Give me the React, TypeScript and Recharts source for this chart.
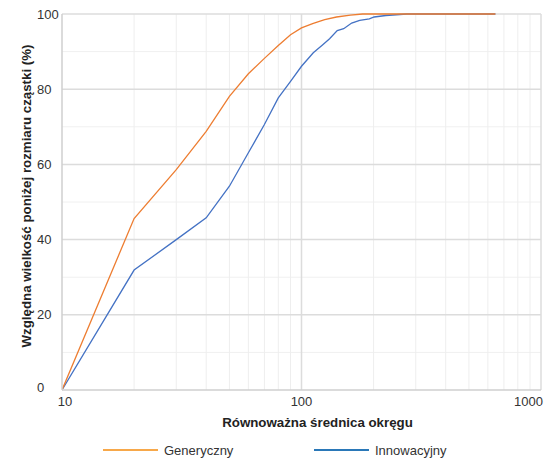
import React from 'react';
import { LineChart, Line, XAxis, YAxis, ReferenceLine, Label } from 'recharts';

const genericX = [10, 20, 30, 40, 50, 60, 70, 80, 90, 100, 112, 125, 140, 160, 180, 300, 645];
const genericY = [0, 45.6, 58.6, 68.8, 78.1, 84.1, 88.2, 91.6, 94.5, 96.3, 97.5, 98.5, 99.2, 99.7, 100, 100, 100];
const innovX = [10, 20, 30, 40, 50, 60, 70, 80, 90, 100, 112, 122, 131, 141, 150, 162, 175, 192, 201, 225, 275, 645];
const innovY = [0, 31.9, 40, 45.8, 54.2, 63.1, 70.6, 77.7, 82.1, 86.1, 89.7, 91.7, 93.4, 95.6, 96.1, 97.6, 98.3, 98.7, 99.2, 99.6, 100, 100];

const xTicks = [10, 100, 1000];
const xMinor = [20, 30, 40, 50, 60, 70, 80, 90, 200, 300, 400, 500, 600, 700, 800, 900];
const yTicks = [0, 20, 40, 60, 80, 100];
const yMinor = [10, 30, 50, 70, 90];

const seriesNames = ['Generyczny', 'Innowacyjny'];
const xTitle = 'Równoważna średnica okręgu';
const yTitle = 'Względna wielkość poniżej rozmiaru cząstki (%)';

const genericData = genericX.map((x, i) => ({ x, y: genericY[i] }));
const innovData = innovX.map((x, i) => ({ x, y: innovY[i] }));

const FONT = '"Liberation Sans", Arial, Helvetica, sans-serif';
const ORANGE = '#ed7d31';
const BLUE = '#4472c4';

const XTick = (props: any) => {
  const { x, y, payload } = props;
  const v = payload.value;
  let anchor: any = 'middle';
  let dx = 0;
  if (v === 10) dx = 3;
  if (v === 1000) {
    anchor = 'end';
    dx = 2;
  }
  return (
    <text x={x + dx} y={y} dy="0.71em" textAnchor={anchor} fill="#333" fontSize={13} fontFamily={FONT}>
      {v}
    </text>
  );
};

const YTick = (props: any) => {
  const { x, y, payload } = props;
  const v = payload.value;
  const shift = v === 0 ? -3 : 0;
  return (
    <text x={x} y={y + shift} dy="0.355em" textAnchor="start" fill="#333" fontSize={13} fontFamily={FONT}>
      {v}
    </text>
  );
};

export default function App() {
  return (
    <div style={{ position: 'absolute', left: 0, top: 0, width: 547, height: 459, background: '#fff' }}>
      <LineChart
        width={547}
        height={459}
        margin={{ top: 14, right: 6, bottom: 0, left: 0 }}
      >
        {yMinor.map((v) => (
          <ReferenceLine key={'ym' + v} y={v} stroke="#f0f0f0" strokeWidth={1} />
        ))}
        {xMinor.map((v) => (
          <ReferenceLine key={'xm' + v} x={v} stroke="#eeeeee" strokeWidth={1} />
        ))}
        {yTicks.filter((v) => v > 0).map((v) => (
          <ReferenceLine key={'yM' + v} y={v} stroke="#dcdcdc" strokeWidth={1.5} />
        ))}
        {xTicks.filter((v) => v > 10).map((v) => (
          <ReferenceLine key={'xM' + v} x={v} stroke="#dcdcdc" strokeWidth={1.5} />
        ))}
        <XAxis
          type="number"
          dataKey="x"
          scale="log"
          domain={[10, 1000]}
          ticks={xTicks}
          interval={0}
          allowDataOverflow
          height={69}
          tickLine={false}
          tickSize={0}
          tickMargin={7}
          axisLine={{ stroke: '#cfcfcf', strokeWidth: 1.5 }}
          tick={<XTick />}
        >
          <Label
            content={(p: any) => {
              const vb = p.viewBox;
              const cx = vb.x + vb.width / 2 + 16;
              const cy = vb.y + 37;
              return (
                <text x={cx} y={cy} textAnchor="middle" fill="#222" fontSize={13.3} fontWeight="bold" fontFamily={FONT}>
                  {xTitle}
                </text>
              );
            }}
          />
        </XAxis>
        <YAxis
          type="number"
          dataKey="y"
          domain={[0, 100]}
          ticks={yTicks}
          interval={0}
          width={62}
          tickLine={false}
          tickSize={0}
          tickMargin={25}
          axisLine={{ stroke: '#cfcfcf', strokeWidth: 1.5 }}
          tick={<YTick />}
        >
          <Label
            content={(p: any) => {
              const vb = p.viewBox;
              const cx = vb.x + 31;
              const cy = vb.y + vb.height / 2 - 6;
              return (
                <text
                  x={cx}
                  y={cy}
                  transform={`rotate(-90 ${cx} ${cy})`}
                  textAnchor="middle"
                  fill="#222"
                  fontSize={13.3}
                  fontWeight="bold"
                  fontFamily={FONT}
                >
                  {yTitle}
                </text>
              );
            }}
          />
        </YAxis>
        <Line
          data={innovData}
          dataKey="y"
          name={seriesNames[1]}
          type="linear"
          stroke={BLUE}
          strokeWidth={1.3}
          dot={false}
          isAnimationActive={false}
        />
        <Line
          data={genericData}
          dataKey="y"
          name={seriesNames[0]}
          type="linear"
          stroke={ORANGE}
          strokeWidth={1.3}
          dot={false}
          isAnimationActive={false}
        />
      </LineChart>
      <div
        style={{
          position: 'absolute',
          left: 103,
          top: 441,
          height: 18,
          display: 'flex',
          alignItems: 'center',
          fontFamily: FONT,
          fontSize: 13,
          color: '#333',
          whiteSpace: 'nowrap',
        }}
      >
        <span style={{ display: 'inline-block', width: 55, height: 2, background: '#f7a84a', marginRight: 6 }} />
        <span style={{ width: 150 }}>{seriesNames[0]}</span>
        <span style={{ display: 'inline-block', width: 55, height: 2, background: '#2a78b8', marginRight: 6 }} />
        <span>{seriesNames[1]}</span>
      </div>
    </div>
  );
}
